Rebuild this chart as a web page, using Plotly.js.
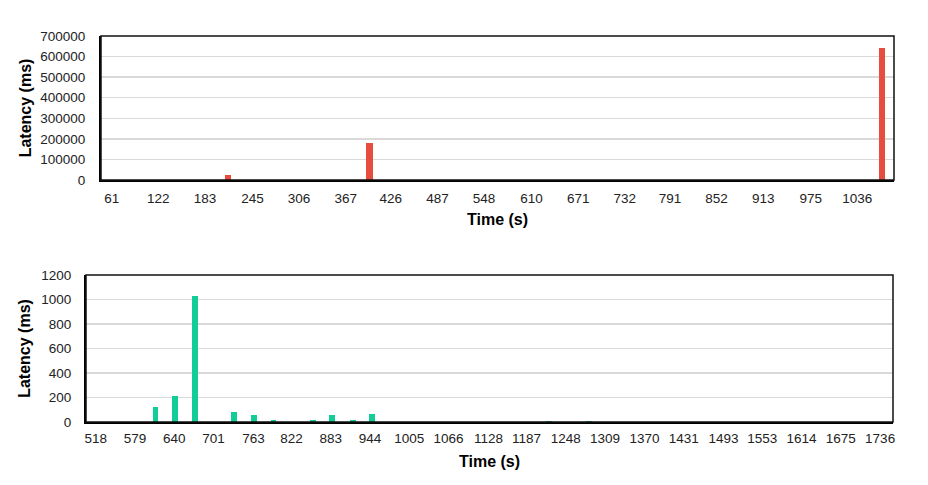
<!DOCTYPE html>
<html>
<head>
<meta charset="utf-8">
<script src="https://cdn.plot.ly/plotly-3.0.1.min.js"></script>
<style>html,body{margin:0;padding:0;background:#fff;}#chart{width:928px;height:485px;}</style>
</head>
<body>
<div id="chart"></div>
<script>
// Top chart data
const topTime = [213, 398, 1068];
const topLatency = [23000, 178000, 642000];
const topTickLabels = [61, 122, 183, 245, 306, 367, 426, 487, 548, 610, 671, 732, 791, 852, 913, 975, 1036];

// Bottom chart data
const bottomTime = [611, 641, 672, 733, 764, 794, 856, 885, 917, 947, 1222, 1284];
const bottomLatency = [120, 210, 1025, 80, 55, 15, 15, 55, 15, 65, 12, 12];
const bottomTickLabels = [518, 579, 640, 701, 763, 822, 883, 944, 1005, 1066, 1128, 1187, 1248, 1309, 1370, 1431, 1493, 1553, 1614, 1675, 1736];

const FONT = 'Liberation Sans, Arial, sans-serif';
const tickFont = {family: FONT, size: 13.5, color: '#222'};
const titleFont = {family: FONT, size: 16, color: '#000', weight: 'bold'};

const traces = [
  {type: 'bar', x: topTime, y: topLatency, xaxis: 'x', yaxis: 'y', width: 8.5,
   marker: {color: '#e74c3c'}, hoverinfo: 'x+y'},
  {type: 'bar', x: bottomTime, y: bottomLatency, xaxis: 'x2', yaxis: 'y2', width: 9,
   marker: {color: '#12cd98'}, hoverinfo: 'x+y'}
];

const W = 928, H = 485;
const dx = (a, b) => [a / W, b / W];
const dy = (top, bot) => [1 - bot / H, 1 - top / H];

const layout = {
  width: W, height: H,
  margin: {l: 0, r: 0, t: 0, b: 0},
  paper_bgcolor: '#fff', plot_bgcolor: '#fff',
  showlegend: false,
  bargap: 0,
  xaxis: {
    domain: dx(101, 894), anchor: 'y', range: [47, 1084],
    tickmode: 'array', tickvals: topTickLabels, ticktext: topTickLabels.map(String),
    ticks: '', showgrid: false, zeroline: false,
    showline: true, linecolor: '#000', linewidth: 2,
    tickfont: tickFont, ticklabelstandoff: 5,
    title: {text: 'Time (s)', font: titleFont, standoff: 9}
  },
  xaxis3: {
    domain: dx(101, 894), anchor: 'y', overlaying: 'x', range: [47, 1084],
    tickmode: 'linear', tick0: 47, dtick: 61,
    ticks: 'inside', ticklen: 4, tickwidth: 2, tickcolor: '#000',
    showticklabels: false, showgrid: false, zeroline: false, showline: false
  },
  yaxis: {
    domain: dy(36, 180), anchor: 'x', range: [0, 700000],
    tickmode: 'linear', tick0: 0, dtick: 100000, tickformat: 'd',
    ticks: '', showgrid: true, gridcolor: '#d9d9d9', gridwidth: 1.5, zeroline: false,
    showline: true, linecolor: '#000', linewidth: 2,
    tickfont: tickFont, ticklabelstandoff: 11,
    title: {text: 'Latency (ms)', font: titleFont, standoff: 5}
  },
  xaxis2: {
    domain: dx(86, 893), anchor: 'y2', range: [503, 1756],
    tickmode: 'array', tickvals: bottomTickLabels, ticktext: bottomTickLabels.map(String),
    ticks: '', showgrid: false, zeroline: false,
    showline: true, linecolor: '#000', linewidth: 2,
    tickfont: tickFont, ticklabelstandoff: 3,
    title: {text: 'Time (s)', font: titleFont, standoff: 11}
  },
  yaxis2: {
    domain: dy(275, 422), anchor: 'x2', range: [0, 1200],
    tickmode: 'linear', tick0: 0, dtick: 200,
    ticks: '', showgrid: true, gridcolor: '#d9d9d9', gridwidth: 1.5, zeroline: false,
    showline: true, linecolor: '#000', linewidth: 2,
    tickfont: tickFont, ticklabelstandoff: 10,
    title: {text: 'Latency (ms)', font: titleFont, standoff: 7}
  },
  shapes: [
    {type: 'rect', xref: 'x domain', yref: 'y domain', x0: 0, x1: 1, y0: 0, y1: 1,
     line: {color: '#111', width: 1.5}, layer: 'above'},
    {type: 'rect', xref: 'x2 domain', yref: 'y2 domain', x0: 0, x1: 1, y0: 0, y1: 1,
     line: {color: '#111', width: 1.5}, layer: 'above'}
  ]
};

Plotly.newPlot('chart', traces, layout, {staticPlot: true, displayModeBar: false});
</script>
</body>
</html>
